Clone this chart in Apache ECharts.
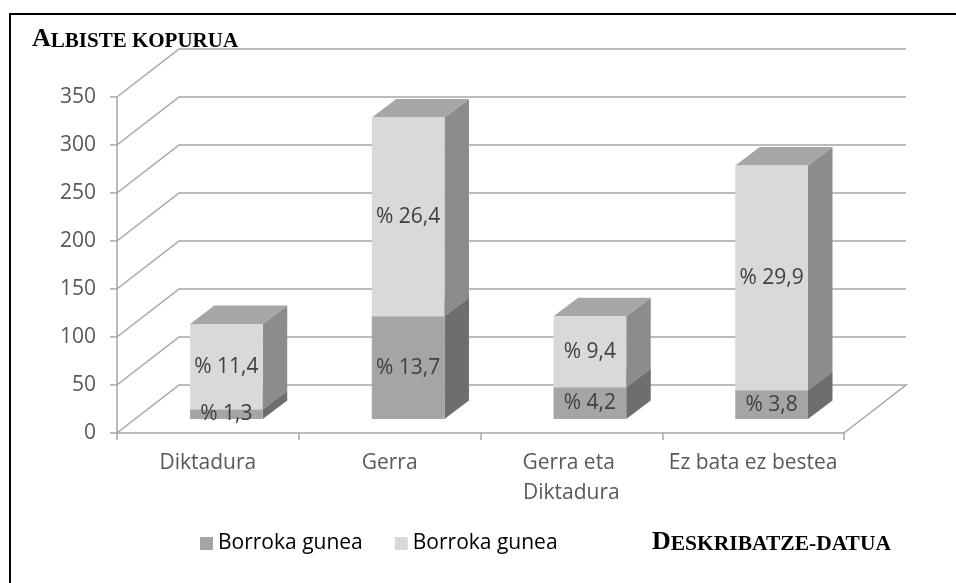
<!DOCTYPE html>
<html><head><meta charset="utf-8">
<script src="https://cdn.jsdelivr.net/npm/echarts@6/dist/echarts.min.js"></script>
<style>html,body{margin:0;padding:0;background:#fff}#c{width:956px;height:583px}</style>
</head><body><div id="c"></div>
<script>
// ---- data ----
const categories = ['Diktadura', 'Gerra', 'Gerra eta Diktadura', 'Ez bata ez bestea'];
const darkValues = [10, 107, 33, 30];
const lightValues = [89, 207, 74, 234];
const darkPct = [1.3, 13.7, 4.2, 3.8];
const lightPct = [11.4, 26.4, 9.4, 29.9];
const yTicks = [0, 50, 100, 150, 200, 250, 300, 350];
const seriesNames = ['Borroka gunea', 'Borroka gunea '];

// ---- style ----
const GRID = '#a6a6a6';
const AXIS_TXT = '#595959';
const DX = 62, DY = 48;           // wall depth
const FDX = 18.5, FDY = 14;       // bar front-face offset
const BDX = 24.5, BDY = 18.5;     // bar depth
const BAR_FRAC = 0.40;
const COLORS = [
  { front: '#a5a5a5', side: '#6e6e6e', top: '#8a8a8a' },
  { front: '#d9d9d9', side: '#8c8c8c', top: '#a6a6a6' }
];
const FONT = '"Open Sans", sans-serif';
const FS = 21;

function fmt(p) { return '% ' + String(p).replace('.', ','); }

function wallItem(params, api) {
  const v = yTicks[params.dataIndex];
  const cs = params.coordSys;
  const y = api.coord([0, v])[1];
  const xl = cs.x, xr = cs.x + cs.width;
  const pts = [[xl, y], [xl + DX, y - DY], [xr + DX, y - DY]];
  if (v === 0) pts.push([xr, y]);
  return { type: 'polyline', silent: true, shape: { points: pts },
    style: { stroke: GRID, lineWidth: 1.5, fill: null } };
}

function barRenderer(si) {
  return function (params, api) {
    const i = params.dataIndex;
    const base = si === 0 ? 0 : darkValues[i];
    const top = base + (si === 0 ? darkValues[i] : lightValues[i]);
    const pct = si === 0 ? darkPct[i] : lightPct[i];
    const c0 = api.coord([i, base]), c1 = api.coord([i, top]);
    const bw = api.size([1, 0])[0] * BAR_FRAC;
    const fx = c0[0] - bw / 2 + FDX;
    const y0 = c0[1] - FDY, y1 = c1[1] - FDY;
    const col = COLORS[si];
    return {
      type: 'group',
      children: [
        { type: 'polygon', shape: { points: [[fx + bw, y0], [fx + bw + BDX, y0 - BDY], [fx + bw + BDX, y1 - BDY], [fx + bw, y1]] },
          style: { fill: col.side } },
        { type: 'polygon', shape: { points: [[fx, y1], [fx + BDX, y1 - BDY], [fx + bw + BDX, y1 - BDY], [fx + bw, y1]] },
          style: { fill: col.top } },
        { type: 'rect', shape: { x: fx, y: y1, width: bw, height: y0 - y1 }, style: { fill: col.front } },
        { type: 'text', z2: 100, x: fx + bw / 2, y: (y0 + y1) / 2,
          style: { text: fmt(pct), fill: '#404040', fontSize: FS, fontFamily: FONT, align: 'center', verticalAlign: 'middle' } }
      ]
    };
  };
}

const chart = echarts.init(document.getElementById('c'), null, { renderer: 'canvas' });
chart.setOption({
  animation: false,
  backgroundColor: '#fff',
  grid: { left: 117, right: 112, top: 97, bottom: 150, containLabel: false },
  xAxis: {
    type: 'category', data: categories,
    axisLine: { show: true, lineStyle: { color: GRID, width: 1.5 } },
    axisTick: { show: true, length: 7, alignWithLabel: false, lineStyle: { color: GRID, width: 1.5 } },
    axisLabel: { color: AXIS_TXT, fontSize: FS, fontFamily: FONT, margin: 15, width: 176, overflow: 'break', lineHeight: 30, interval: 0 },
    splitLine: { show: false }
  },
  yAxis: {
    type: 'value', min: 0, max: 350, interval: 50,
    axisLine: { show: true, lineStyle: { color: GRID, width: 1.5 } },
    axisTick: { show: true, length: 7, lineStyle: { color: GRID, width: 1.5 } },
    axisLabel: { color: AXIS_TXT, fontSize: FS, fontFamily: FONT, margin: 21 },
    splitLine: { show: false }
  },
  legend: {
    left: 200, top: 533, padding: 0, icon: 'rect', itemWidth: 13, itemHeight: 13, itemGap: 32,
    textStyle: { color: '#000', fontSize: FS, fontFamily: FONT },
    data: [{ name: seriesNames[0] }, { name: seriesNames[1] }]
  },
  graphic: [
    { type: 'line', shape: { x1: 9, y1: 14, x2: 956, y2: 14 }, style: { stroke: '#000', lineWidth: 2 } },
    { type: 'line', shape: { x1: 10, y1: 13, x2: 10, y2: 583 }, style: { stroke: '#000', lineWidth: 2 } },
    { type: 'text', left: 32, top: 26, style: {
        text: '{a|A}{b|LBISTE KOPURUA}', fill: '#000',
        rich: { a: { fontSize: 26, fontWeight: 'bold', fontFamily: '"Liberation Serif", serif', verticalAlign: 'bottom', lineHeight: 28 },
                b: { fontSize: 21, fontWeight: 'bold', fontFamily: '"Liberation Serif", serif', verticalAlign: 'bottom', lineHeight: 28 } } } },
    { type: 'text', left: 652, top: 529, style: {
        text: '{a|D}{b|ESKRIBATZE-DATUA}', fill: '#000',
        rich: { a: { fontSize: 26, fontWeight: 'bold', fontFamily: '"Liberation Serif", serif', verticalAlign: 'bottom', lineHeight: 28 },
                b: { fontSize: 21.5, fontWeight: 'bold', fontFamily: '"Liberation Serif", serif', verticalAlign: 'bottom', lineHeight: 28 } } } }
  ],
  series: [
    { type: 'custom', name: 'wall', z: 1, silent: true, renderItem: wallItem,
      data: yTicks.map(v => [0, v]), legendHoverLink: false },
    { type: 'custom', name: seriesNames[0], z: 2, renderItem: barRenderer(0),
      itemStyle: { color: COLORS[0].front },
      data: darkValues.map((v, i) => [i, v]) },
    { type: 'custom', name: seriesNames[1], z: 2, renderItem: barRenderer(1),
      itemStyle: { color: COLORS[1].front },
      data: lightValues.map((v, i) => [i, darkValues[i] + v]) }
  ]
});
</script>
</body></html>
